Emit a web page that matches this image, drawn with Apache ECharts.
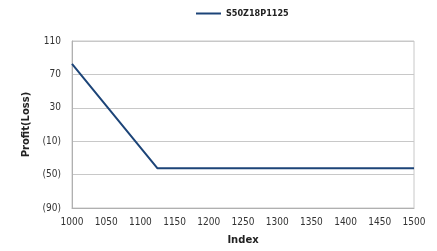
<!DOCTYPE html>
<html>
<head>
<meta charset="utf-8">
<script src="https://cdn.jsdelivr.net/npm/echarts@6/dist/echarts.min.js"></script>
<style>
  html, body { margin: 0; padding: 0; background: #fff; }
  #chart { width: 437px; height: 251px; }
</style>
</head>
<body>
<div id="chart"></div>
<script>
// payoff of the put position
const seriesName = 'S50Z18P1125'
const indexValues = [1000, 1125, 1500]
const profitValues = [82.5, -42.5, -42.5]

const chart = echarts.init(document.getElementById('chart'))

// negatives shown in brackets, like (10)
function bracket (v) {
  return v < 0 ? '(' + Math.abs(v) + ')' : String(v)
}

const labelFont = { fontFamily: 'DejaVu Sans Condensed', fontSize: 10, color: '#333' }
const nameFont = { fontFamily: 'DejaVu Sans', fontSize: 10, fontWeight: 'bold', color: '#222' }

chart.setOption({
  animation: false,
  legend: {
    data: [seriesName],
    top: 4,
    left: 191,
    itemWidth: 25,
    itemHeight: 2,
    itemGap: 4,
    icon: 'rect',
    textStyle: { fontFamily: 'DejaVu Sans Condensed', fontSize: 9, fontWeight: 'bold', color: '#222' }
  },
  grid: {
    left: 72,
    right: 23,
    top: 41,
    bottom: 43,
    show: true,
    borderColor: '#c8c8c8',
    borderWidth: 1
  },
  xAxis: {
    type: 'value',
    min: 1000,
    max: 1500,
    interval: 50,
    name: 'Index',
    nameLocation: 'middle',
    nameGap: 27,
    nameTextStyle: nameFont,
    axisLine: { onZero: false, lineStyle: { color: '#b0b0b0' } },
    axisTick: { show: false },
    axisLabel: Object.assign({ margin: 9, formatter: v => String(v) }, labelFont),
    splitLine: { show: false }
  },
  yAxis: {
    type: 'value',
    min: -90,
    max: 110,
    interval: 40,
    name: 'Profit(Loss)',
    nameLocation: 'middle',
    nameGap: 36,
    nameTextStyle: nameFont,
    axisLine: { show: true, lineStyle: { color: '#b0b0b0' } },
    axisTick: { show: false },
    axisLabel: Object.assign({ margin: 11, formatter: bracket }, labelFont),
    splitLine: { lineStyle: { color: '#c8c8c8' } }
  },
  series: [{
    name: seriesName,
    type: 'line',
    data: indexValues.map((x, i) => [x, profitValues[i]]),
    showSymbol: false,
    lineStyle: { color: '#1c4478', width: 2 },
    itemStyle: { color: '#1c4478' }
  }]
})
</script>
</body>
</html>
